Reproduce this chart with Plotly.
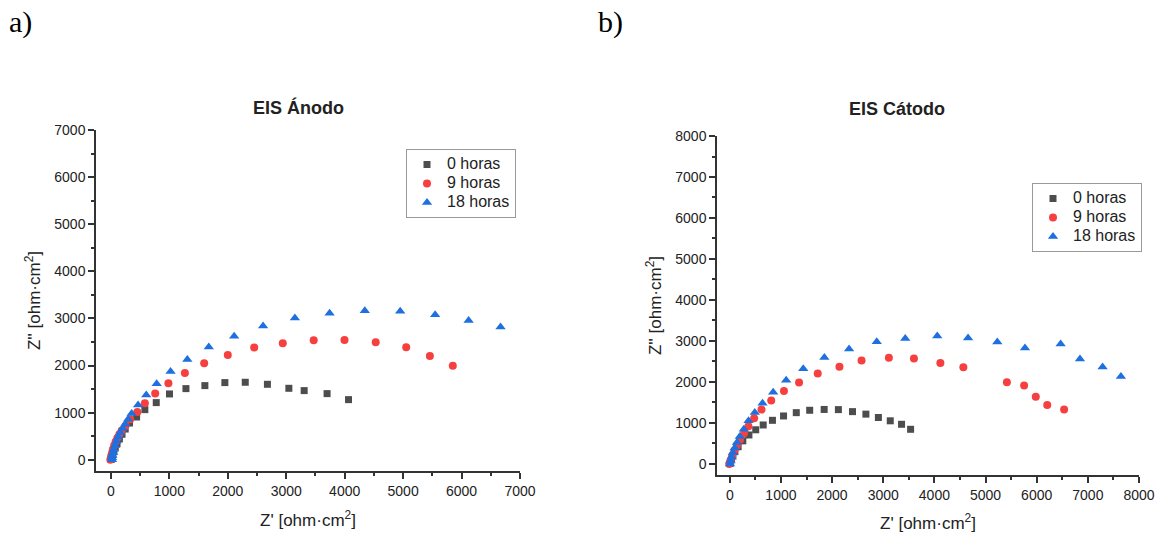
import plotly.graph_objects as go

W, H = 1159, 533

# ---------------- data (ohm·cm²) ----------------
series_names = ["0 horas", "9 horas", "18 horas"]

# EIS Ánodo
anodo_0h_x = [5, 12, 22, 35, 52, 75, 105, 145, 190, 245, 318, 440, 581, 776, 1003, 1284, 1608, 1950, 2299, 2678, 3045, 3307, 3699, 4066]
anodo_0h_y = [5, 30, 70, 120, 180, 260, 340, 440, 540, 651, 779, 907, 1063, 1212, 1396, 1509, 1573, 1637, 1644, 1601, 1516, 1467, 1403, 1275]

anodo_9h_x = [-10, 0, 8, 20, 35, 55, 80, 110, 145, 185, 250, 330, 452, 581, 758, 984, 1266, 1596, 2000, 2452, 2941, 3470, 3997, 4531, 5053, 5458, 5850]
anodo_9h_y = [0, 40, 90, 150, 220, 300, 380, 460, 540, 620, 720, 860, 1013, 1197, 1403, 1622, 1842, 2048, 2225, 2381, 2473, 2534, 2541, 2492, 2390, 2201, 1992]

anodo_18h_x = [20, 20, 25, 35, 50, 70, 95, 125, 160, 200, 245, 295, 355, 465, 605, 783, 1021, 1308, 1675, 2109, 2604, 3148, 3742, 4344, 4950, 5548, 6121, 6667]
anodo_18h_y = [0, 40, 90, 150, 220, 300, 390, 480, 570, 660, 750, 860, 980, 1161, 1375, 1615, 1871, 2126, 2395, 2622, 2841, 3011, 3110, 3164, 3153, 3079, 2958, 2818]

# EIS Cátodo
catodo_0h_x = [5, 15, 35, 60, 100, 163, 255, 374, 507, 653, 834, 1051, 1300, 1562, 1845, 2123, 2399, 2661, 2905, 3137, 3358, 3535]
catodo_0h_y = [10, 50, 120, 200, 300, 420, 563, 706, 833, 950, 1064, 1170, 1251, 1309, 1329, 1325, 1276, 1215, 1133, 1052, 967, 845]

catodo_9h_x = [-10, 0, 20, 50, 90, 140, 200, 280, 364, 476, 620, 810, 1059, 1354, 1719, 2144, 2576, 3110, 3600, 4117, 4566, 5417, 5754, 5982, 6206, 6536]
catodo_9h_y = [0, 30, 100, 200, 320, 450, 590, 750, 918, 1113, 1325, 1548, 1777, 1984, 2205, 2370, 2521, 2590, 2574, 2464, 2358, 1990, 1914, 1638, 1435, 1329]

catodo_18h_x = [5, 15, 35, 60, 95, 140, 196, 274, 366, 489, 640, 848, 1102, 1436, 1849, 2332, 2873, 3430, 4056, 4658, 5230, 5771, 6468, 6846, 7288, 7646]
catodo_18h_y = [0, 70, 160, 270, 390, 520, 667, 849, 1052, 1255, 1480, 1749, 2039, 2323, 2599, 2802, 2981, 3057, 3120, 3075, 2973, 2826, 2924, 2562, 2362, 2130]

# tick values
x1_ticks = [0, 1000, 2000, 3000, 4000, 5000, 6000, 7000]
y1_ticks = [0, 1000, 2000, 3000, 4000, 5000, 6000, 7000]
x2_ticks = [0, 1000, 2000, 3000, 4000, 5000, 6000, 7000, 8000]
y2_ticks = [0, 1000, 2000, 3000, 4000, 5000, 6000, 7000, 8000]

x_title = "Z' [ohm·cm<sup>2</sup>]"
y_title = "Z'' [ohm·cm<sup>2</sup>]"

# ---------------- styles ----------------
GREY, RED, BLUE = "#4D4D4D", "#F5403F", "#1E6FDF"
FONT = "Arial, Liberation Sans, sans-serif"
SERIF = "Times New Roman, Liberation Serif, serif"
styles = [
    dict(symbol="square", size=7, color=GREY),
    dict(symbol="circle", size=8, color=RED),
    dict(symbol="triangle-up", size=9, color=BLUE),
]


def fx(X):
    return X / W


def fy(Y):
    return 1 - Y / H


def legend_label(name):
    return "<span style='font-size:16px'>" + name + "</span>"


fig = go.Figure()

anodo = [(anodo_0h_x, anodo_0h_y), (anodo_9h_x, anodo_9h_y), (anodo_18h_x, anodo_18h_y)]
catodo = [(catodo_0h_x, catodo_0h_y), (catodo_9h_x, catodo_9h_y), (catodo_18h_x, catodo_18h_y)]

for (xs, ys), name, st in zip(anodo, series_names, styles):
    fig.add_trace(go.Scatter(x=xs, y=ys, mode="markers", name=legend_label(name), marker=st,
                             xaxis="x", yaxis="y", legend="legend"))
for (xs, ys), name, st in zip(catodo, series_names, styles):
    fig.add_trace(go.Scatter(x=xs, y=ys, mode="markers", name=legend_label(name), marker=st,
                             xaxis="x2", yaxis="y2", legend="legend2"))

axis_common = dict(
    showline=True, linecolor="#333333", linewidth=1.5, mirror=False,
    ticks="outside", ticklen=6, tickwidth=1.5, tickcolor="#333333",
    showgrid=False, zeroline=False, automargin=False,
    tickfont=dict(family=FONT, size=14, color="#222222"),
    minor=dict(ticks="outside", ticklen=3, tickwidth=1.5, tickcolor="#333333",
               dtick=500, tick0=0, showgrid=False),
)
title_font = dict(family=FONT, size=17, color="#222222")

legend_common = dict(xanchor="left", yanchor="top", bordercolor="#9a9a9a", borderwidth=1,
                     bgcolor="white", font=dict(family=FONT, size=12, color="#222222"),
                     tracegroupgap=0)

fig.update_layout(
    width=W, height=H,
    margin=dict(l=0, r=0, t=0, b=0),
    paper_bgcolor="white", plot_bgcolor="white",
    font=dict(family=FONT, size=14, color="#222222"),
    xaxis=dict(domain=[fx(96), fx(520)], range=[-255, 7000], anchor="y", tickvals=x1_ticks,
               title=dict(text=x_title, font=title_font, standoff=17), **axis_common),
    yaxis=dict(domain=[fy(471), fy(130)], range=[-240, 7000], anchor="x", tickvals=y1_ticks,
               title=dict(text=y_title, font=title_font, standoff=9), **axis_common),
    xaxis2=dict(domain=[fx(717), fx(1139)], range=[-250, 8000], anchor="y2", tickvals=x2_ticks,
                title=dict(text=x_title, font=title_font, standoff=16), **axis_common),
    yaxis2=dict(domain=[fy(475), fy(136)], range=[-270, 8000], anchor="x2", tickvals=y2_ticks,
                title=dict(text=y_title, font=title_font, standoff=9), **axis_common),
    legend=dict(x=fx(406), y=fy(149), **legend_common),
    legend2=dict(x=fx(1032), y=fy(183), **legend_common),
)

ann = []


def add_text(text, X, Y, size, angle=0, xanchor="center", family=FONT, color="#222222"):
    ann.append(dict(text=text, x=fx(X), y=fy(Y), xref="paper", yref="paper",
                    xanchor=xanchor, yanchor="middle", showarrow=False, textangle=angle,
                    font=dict(family=family, size=size, color=color)))


add_text("<b>EIS Ánodo</b>", 298, 108, 18)
add_text("<b>EIS Cátodo</b>", 897, 109, 18)
add_text("a)", 7, 22, 30, xanchor="left", family=SERIF, color="#000000")
add_text("b)", 596, 22, 30, xanchor="left", family=SERIF, color="#000000")
fig.update_layout(annotations=ann)

# remove the default body margin so that the 1159x533 figure fills the window
fig.write_html("out.html", config={"displayModeBar": False},
               post_script="document.body.style.margin='0';")
